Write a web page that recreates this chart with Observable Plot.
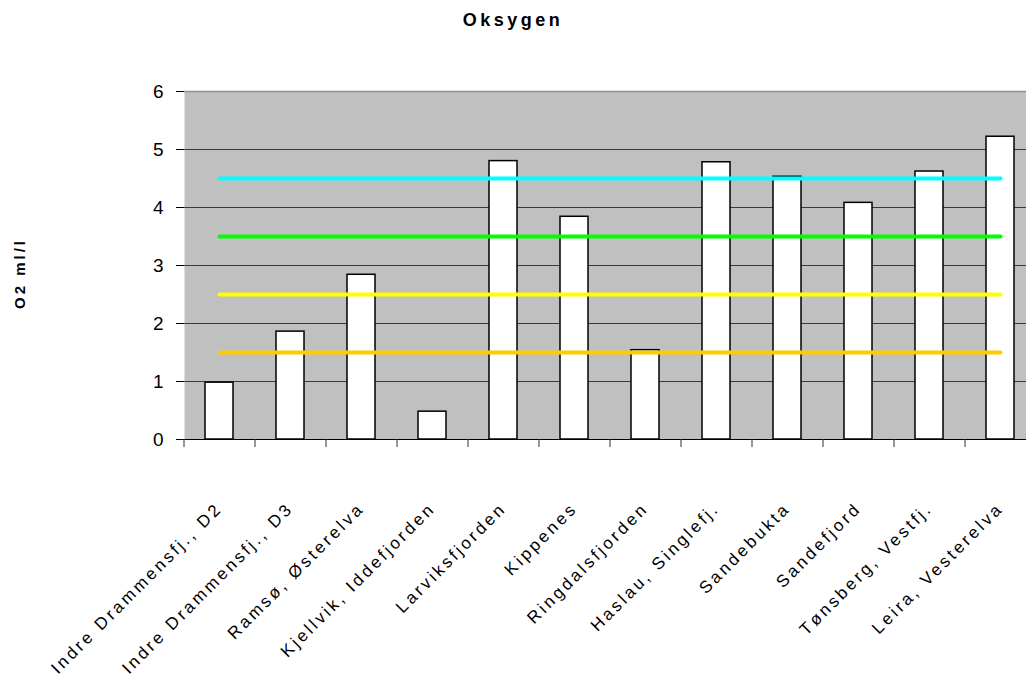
<!DOCTYPE html>
<html><head><meta charset="utf-8">
<script src="https://cdn.jsdelivr.net/npm/d3@7"></script>
<script src="https://cdn.jsdelivr.net/npm/@observablehq/plot@0.6"></script>
<style>
html,body{margin:0;padding:0;overflow:hidden;background:#fff;}
#title{width:1026px;height:36px;line-height:40px;text-align:center;font-family:"Liberation Sans",Arial,sans-serif;font-weight:bold;font-size:18px;letter-spacing:3.5px;color:#000;}
</style></head><body>
<div id="title"></div>
<div id="chart"></div>
<script>
const title = "Oksygen";
const yLabel = "O2 ml/l";
const categories = [
  "Indre Drammensfj., D2",
  "Indre Drammensfj., D3",
  "Ramsø, Østerelva",
  "Kjellvik, Iddefjorden",
  "Larviksfjorden",
  "Kippenes",
  "Ringdalsfjorden",
  "Haslau, Singlefj.",
  "Sandebukta",
  "Sandefjord",
  "Tønsberg, Vestfj.",
  "Leira, Vesterelva"
];
const values = [0.98, 1.86, 2.84, 0.48, 4.80, 3.84, 1.54, 4.78, 4.53, 4.08, 4.62, 5.22];
const levels = [4.5, 3.5, 2.5, 1.5];
const levelColors = ["#00ffff", "#00ff00", "#ffff00", "#ffcc00"];
const yTicks = [0, 1, 2, 3, 4, 5, 6];
const gridTicks = [1, 2, 3, 4, 5];

document.getElementById("title").textContent = title;

const W = 1040, H = 652, mL = 184, mR = 4, mT = 55, mB = 249;
const step = (W - mL - mR) / categories.length;

const bars = categories.map((c, i) => ({cat: c, v: values[i]}));

const svg = Plot.plot({
  width: W, height: H,
  marginLeft: mL, marginRight: mR, marginTop: mT, marginBottom: mB,
  style: {fontFamily: "'Liberation Sans', Arial, sans-serif", maxWidth: "none", background: "transparent", color: "#000"},
  x: {domain: categories, paddingInner: 0.6, paddingOuter: 0.3, axis: null},
  y: {domain: [0, 6], axis: null},
  marks: [
    Plot.frame({fill: "#c0c0c0", stroke: null}),
    Plot.gridY({ticks: gridTicks, stroke: "#222", strokeOpacity: 0.85, strokeWidth: 1}),
    Plot.ruleY([6], {stroke: "#909090", strokeWidth: 1.5}),
    Plot.barY(bars, {x: "cat", y: "v", fill: "#fff", stroke: "#000", strokeWidth: 1.5}),
    ...levels.map((l, k) => Plot.lineY(categories.map(c => ({cat: c, y: l})), {
      x: "cat", y: "y", stroke: levelColors[k], strokeWidth: 4, strokeLinecap: "round"
    })),
    Plot.ruleY([0], {stroke: "#000", strokeWidth: 1}),
    Plot.axisY({ticks: yTicks, tickSize: 8, tickPadding: 13, tickFormat: d3.format("d"), fontSize: 19, line: true, label: null}),
    Plot.axisX({tickSize: 8, tickFormat: () => "", dx: -step / 2, label: null, stroke: "#333"}),
    Plot.axisX({tickSize: 0, tickPadding: 66, tickRotate: -45, fontSize: 17, label: null}),
    Plot.text([yLabel], {frameAnchor: "left", textAnchor: "middle", dx: -164, dy: 8, rotate: -90, fontWeight: "bold", fontSize: 15})
  ]
});
d3.select(svg).selectAll('g[aria-label="x-axis tick label"] text').style("letter-spacing", "3px");
d3.select(svg).selectAll("text").filter(function() { return this.textContent === yLabel; })
  .style("letter-spacing", "3px").style("font-size", "15px").style("font-weight", "bold");
document.getElementById("chart").appendChild(svg);
</script>
</body></html>
